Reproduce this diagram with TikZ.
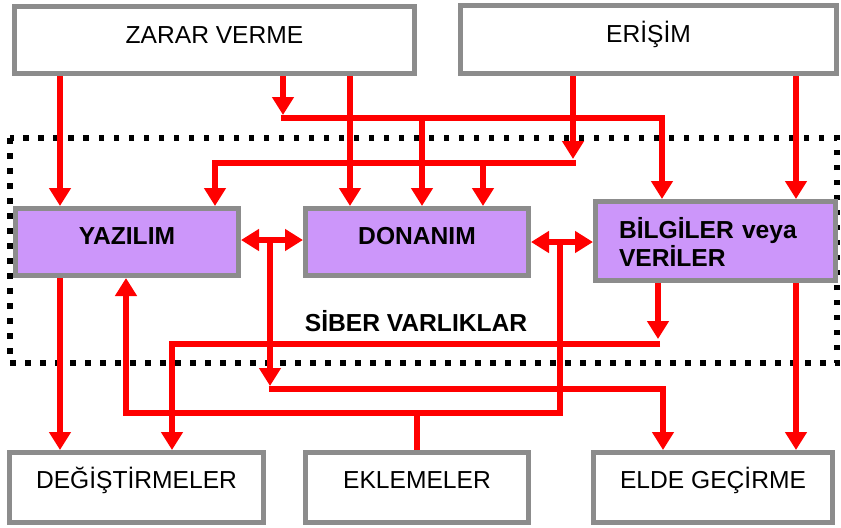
\documentclass[tikz,border=0pt]{standalone}
\usepackage{fontspec}
\setmainfont{Liberation Sans}
\usetikzlibrary{arrows.meta}
\definecolor{kenar}{RGB}{140,140,140}
\definecolor{mor}{RGB}{204,150,250}

\begin{document}
\begin{tikzpicture}[x=0.5pt,y=-0.5pt]
  \tikzstyle{kutu}=[rectangle,draw=kenar,line width=2.5pt,fill=white,font=\fontsize{12.3}{14}\selectfont,text height=8.8pt]
  \tikzstyle{ust}=[kutu,text depth=5.5pt]
  \tikzstyle{alt}=[kutu,text depth=8pt]
  \tikzstyle{varlik}=[kutu,fill=mor,font=\fontsize{12.3}{14}\selectfont\bfseries,text depth=6pt]
  \tikzstyle{hat}=[red,line width=3pt]
  \tikzstyle{ok}=[hat,-{Triangle[width=10.5pt,length=9pt]}]
  \tikzstyle{cift}=[hat,{Triangle[width=10.5pt,length=9pt]}-{Triangle[width=10.5pt,length=9pt]}]
  \useasboundingbox (0,0) rectangle (841,527);
  \draw[line width=2.75pt,dash pattern=on 2.75pt off 4.75pt] (10,138) rectangle (837,363);
  \node[ust,minimum width=200pt,minimum height=33.5pt] (zarar) at (214.5,40) {ZARAR VERME};
  \node[ust,minimum width=188pt,minimum height=34pt] (erisim) at (648.5,39.5) {ERİŞİM};
  \node[varlik,minimum width=111.5pt,minimum height=33.5pt] (yazilim) at (127,242) {YAZILIM};
  \node[varlik,minimum width=111.5pt,minimum height=33.5pt] (donanim) at (417,242) {DONANIM};
  \node[varlik,minimum height=39.5pt,text width=96.5pt,inner xsep=11.75pt,align=left,text depth=11.5pt] (bilgi) at (715.5,241) {BİLGİLER veya\\VERİLER};
  \node[alt,minimum width=127pt,minimum height=35pt] (degis) at (136.5,487.5) {DEĞİŞTİRMELER};
  \node[alt,minimum width=111.5pt,minimum height=35pt] (ekle) at (417,487.5) {EKLEMELER};
  \node[alt,minimum width=119.5pt,minimum height=35pt] (elde) at (713,487.5) {ELDE GEÇİRME};
  \node[font=\fontsize{12.3}{14}\selectfont\bfseries,text height=8.8pt,text depth=0pt] (siber) at (416,322.5) {SİBER VARLIKLAR};
  \coordinate (z1) at (283,115);
  \coordinate (z2) at (573,159);
  \coordinate (d1) at (270,386);
  \coordinate (d2) at (560,413);
  \coordinate (b1) at (658,339);
  \draw[ok] (60,0 |- zarar.south) -- (60,0 |- yazilim.north);
  \draw[ok] (283,0 |- zarar.south) -- (z1);
  \draw[ok] (280.5,118) -- (662,118) -- (662,0 |- bilgi.north);
  \draw[ok] (422,118) -- (422,0 |- donanim.north);
  \draw[ok] (350,0 |- zarar.south) -- (350,0 |- donanim.north);
  \draw[ok] (z2 |- erisim.south) -- (z2);
  \draw[ok] (575.5,163) -- (215,163) -- (215,0 |- yazilim.north);
  \draw[ok] (483,163) -- (483,0 |- donanim.north);
  \draw[ok] (796,0 |- erisim.south) -- (796,0 |- bilgi.north);
  \draw[cift] (yazilim.east |- 0,240) -- (donanim.west |- 0,240);
  \draw[ok] (270,240) -- (d1);
  \draw[ok] (268.5,389) -- (663,389) -- (663,0 |- elde.north);
  \draw[cift] (donanim.east |- 0,242) -- (bilgi.west |- 0,242);
  \draw[ok] (560,242) -- (d2) -- (126,413) -- (126,0 |- yazilim.south);
  \draw[hat] (417,0 |- ekle.north) -- (417,413);
  \draw[ok] (60,0 |- yazilim.south) -- (60,0 |- degis.north);
  \draw[ok] (b1 |- bilgi.south) -- (b1);
  \draw[ok] (660,344) -- (172,344) -- (172,0 |- degis.north);
  \draw[ok] (796,0 |- bilgi.south) -- (796,0 |- elde.north);
\end{tikzpicture}
\end{document}
